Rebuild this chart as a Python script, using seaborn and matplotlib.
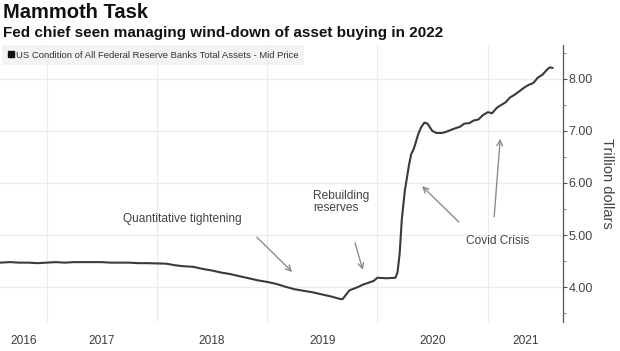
import pandas as pd
import numpy as np
import seaborn as sns
import matplotlib.pyplot as plt
from matplotlib.lines import Line2D

dates = ["2016-07-30", "2016-09-01", "2016-10-01", "2016-11-01", "2016-12-01",
         "2017-01-01", "2017-02-01", "2017-03-01", "2017-04-01", "2017-05-01", "2017-06-01",
         "2017-07-01", "2017-08-01", "2017-09-01", "2017-10-01", "2017-11-01", "2017-12-01",
         "2018-01-01", "2018-02-01", "2018-03-01", "2018-04-01", "2018-05-01", "2018-06-01",
         "2018-07-01", "2018-08-01", "2018-09-01", "2018-10-01", "2018-11-01", "2018-12-01",
         "2019-01-01", "2019-02-01", "2019-03-01", "2019-04-01", "2019-05-01", "2019-06-01",
         "2019-07-01", "2019-08-01", "2019-09-01", "2019-09-08", "2019-09-20", "2019-10-01",
         "2019-10-15", "2019-11-01", "2019-11-15", "2019-12-01", "2019-12-20", "2020-01-01",
         "2020-02-01", "2020-03-01", "2020-03-08", "2020-03-15", "2020-03-22", "2020-04-01",
         "2020-04-08", "2020-04-15", "2020-04-22", "2020-05-01", "2020-05-15", "2020-05-25",
         "2020-06-05", "2020-06-15", "2020-07-01", "2020-07-15", "2020-08-01", "2020-08-15",
         "2020-09-01", "2020-09-15", "2020-10-01", "2020-10-15", "2020-11-01", "2020-11-15",
         "2020-12-01", "2020-12-15", "2021-01-01", "2021-01-15", "2021-02-01", "2021-02-15",
         "2021-03-01", "2021-03-15", "2021-04-01", "2021-04-15", "2021-05-01", "2021-05-15",
         "2021-06-01", "2021-06-15", "2021-07-01", "2021-07-15", "2021-07-25", "2021-08-04"]
assets = [4.47, 4.48, 4.47, 4.47, 4.46,
          4.47, 4.48, 4.47, 4.48, 4.48, 4.48,
          4.48, 4.47, 4.47, 4.47, 4.46, 4.46,
          4.455, 4.45, 4.42, 4.40, 4.39, 4.35,
          4.32, 4.28, 4.25, 4.21, 4.17, 4.13,
          4.10, 4.06, 4.01, 3.96, 3.93, 3.90,
          3.86, 3.82, 3.77, 3.77, 3.86, 3.94,
          3.97, 4.01, 4.05, 4.08, 4.12, 4.18,
          4.17, 4.18, 4.29, 4.65, 5.30, 5.85,
          6.10, 6.35, 6.55, 6.66, 6.93, 7.07,
          7.16, 7.14, 7.00, 6.96, 6.96, 6.98,
          7.02, 7.05, 7.08, 7.14, 7.15, 7.20,
          7.22, 7.30, 7.36, 7.34, 7.45, 7.50,
          7.55, 7.64, 7.70, 7.76, 7.83, 7.88,
          7.92, 8.02, 8.08, 8.17, 8.22, 8.21]

year_labels = ["2016", "2017", "2018", "2019", "2020", "2021"]
y_ticks = [4, 5, 6, 7, 8]

df = pd.DataFrame({"date": pd.to_datetime(dates), "assets": assets})

sns.set_style("white")
plt.rcParams["font.family"] = ["Liberation Sans", "DejaVu Sans"]

fig = plt.figure(figsize=(6.2, 3.51), dpi=100)
ax = fig.add_axes([0.0, 1 - 322 / 351, 563 / 620, (322 - 45) / 351])

sns.lineplot(data=df, x="date", y="assets", ax=ax, color="#3a3a3a", linewidth=1.5)

x0, x1 = pd.Timestamp("2016-07-30"), pd.Timestamp("2021-09-07")
ax.set_xlim(x0, x1)
ax.set_ylim(3.33, 8.65)

# year gridlines at Jan 1, labels centered on each visible year span
starts = [pd.Timestamp(f"{y}-01-01") for y in year_labels[1:]]
edges = [x0] + starts + [x1]
centers = [edges[i] + (edges[i + 1] - edges[i]) / 2 for i in range(len(edges) - 1)]
for s in starts:
    ax.axvline(s, color="#ececec", lw=0.9, zorder=0)
ax.set_xticks(centers)
ax.set_xticklabels(year_labels)
ax.tick_params(axis="x", length=0, pad=9, labelsize=8.6, labelcolor="#3c3c3c")

ax.yaxis.tick_right()
ax.yaxis.set_label_position("right")
ax.set_yticks(y_ticks)
ax.set_yticks(np.arange(3.5, 8.6, 0.5), minor=True)
ax.set_yticklabels([f"{v:.2f}" for v in y_ticks])
ax.tick_params(axis="y", which="major", direction="out", length=3, width=0.8,
               color="#555555", labelsize=9, labelcolor="#444444", pad=1)
ax.tick_params(axis="y", which="minor", direction="out", length=2, width=0.6, color="#777777")
for v in y_ticks:
    ax.axhline(v, color="#ececec", lw=0.9, zorder=0)
ax.set_ylabel("Trillion dollars", rotation=-90, labelpad=15, fontsize=10.5, color="#444444")
ax.set_xlabel("")

for side in ["top", "left", "bottom"]:
    ax.spines[side].set_visible(False)
ax.spines["right"].set_color("#555555")
ax.spines["right"].set_linewidth(0.9)

handle = Line2D([], [], marker="s", linestyle="", color="#111111", markersize=5)
leg = ax.legend([handle], ["US Condition of All Federal Reserve Banks Total Assets - Mid Price"],
                loc="upper left", bbox_to_anchor=(0.004, 1.0), frameon=True, fancybox=False,
                fontsize=6.8, handlelength=0.6, handletextpad=0.25, borderpad=0.6,
                borderaxespad=0.0)
leg.get_frame().set_facecolor("#f0f0f0")
leg.get_frame().set_edgecolor("none")
for t in leg.get_texts():
    t.set_color("#333333")

arrow = dict(arrowstyle="->", color="#8c8c8c", lw=1.0, shrinkA=0, shrinkB=0)
txt = dict(fontsize=8.6, color="#444444", va="center")
ax.text(pd.Timestamp("2018-03-25"), 5.31, "Quantitative tightening", ha="center", **txt)
ax.annotate("", xy=(pd.Timestamp("2019-03-25"), 4.29), xytext=(pd.Timestamp("2018-11-28"), 4.96),
            arrowprops=arrow)
ax.text(pd.Timestamp("2019-06-02"), 5.63, "Rebuilding\nreserves", ha="left",
        linespacing=1.05, **txt)
ax.annotate("", xy=(pd.Timestamp("2019-11-14"), 4.33), xytext=(pd.Timestamp("2019-10-19"), 4.85),
            arrowprops=arrow)
ax.text(pd.Timestamp("2021-02-03"), 4.88, "Covid Crisis", ha="center", **txt)
ax.annotate("", xy=(pd.Timestamp("2020-05-28"), 5.94), xytext=(pd.Timestamp("2020-09-27"), 5.25),
            arrowprops=arrow)
ax.annotate("", xy=(pd.Timestamp("2021-02-11"), 6.85), xytext=(pd.Timestamp("2021-01-22"), 5.35),
            arrowprops=arrow)

fig.text(3 / 620, 1 - 13 / 351, "Mammoth Task", fontsize=14.5, fontweight="bold",
         color="#111111", va="center", ha="left")
fig.text(3 / 620, 1 - 33 / 351, "Fed chief seen managing wind-down of asset buying in 2022",
         fontsize=11.0, fontweight="bold", color="#111111", va="center", ha="left")

fig.savefig("out.png", dpi=100)
